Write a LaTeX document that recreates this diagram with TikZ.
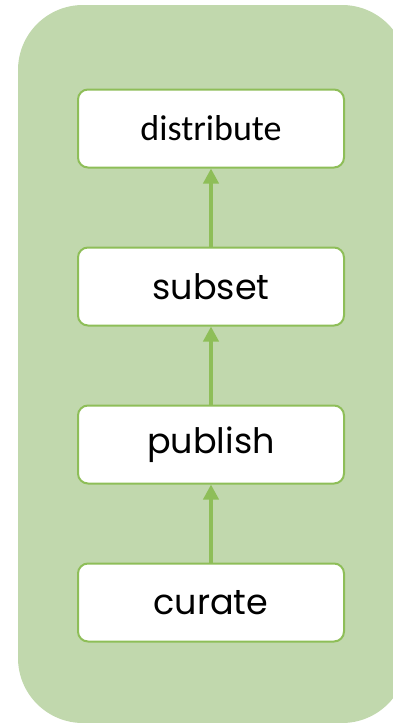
\documentclass[tikz,border=0pt]{standalone}
\usepackage{fontspec}
\setmainfont{Poppins}
\newfontfamily\calibrifont{Carlito}
\usepackage{xcolor}
\usepackage{tikz}
\usetikzlibrary{positioning,arrows.meta}
\definecolor{PanelGreen}{RGB}{193,216,173}
\definecolor{EdgeGreen}{RGB}{142,190,88}
\tikzset{
    stagebox/.style={rectangle, rounded corners=10pt, draw=EdgeGreen, fill=white, line width=2pt,
        minimum width=266pt, minimum height=78pt, inner sep=0pt, font=\fontsize{35}{40}\selectfont},
    flow/.style={draw=EdgeGreen, line width=4pt, -{Triangle[length=15pt,width=15pt]}}
}

\begin{document}
\begin{tikzpicture}[
        % Khoảng cách giữa các hộp
        node distance=78pt
    ]
        % --- Khung ---
        \useasboundingbox (0pt,0pt) rectangle (393pt,-723pt);
        \clip (0pt,0pt) rectangle (393pt,-723pt);
        \fill[PanelGreen, rounded corners=65pt] (18pt,-5pt) rectangle (407pt,-723pt);

        % --- Các bước ---
        \node[stagebox, font=\calibrifont\fontsize{36}{40}\selectfont] (distribute) at (211pt,-128.5pt) {distribute};
        \node[stagebox, below=of distribute] (subset) {subset};
        \node[stagebox, below=of subset] (publish) {publish};
        \node[stagebox, below=of publish] (curate) {curate};

        % --- Mũi tên ---
        \draw[flow] (curate) -- (publish);
        \draw[flow] (publish) -- (subset);
        \draw[flow] (subset) -- (distribute);

    \end{tikzpicture}
\end{document}
